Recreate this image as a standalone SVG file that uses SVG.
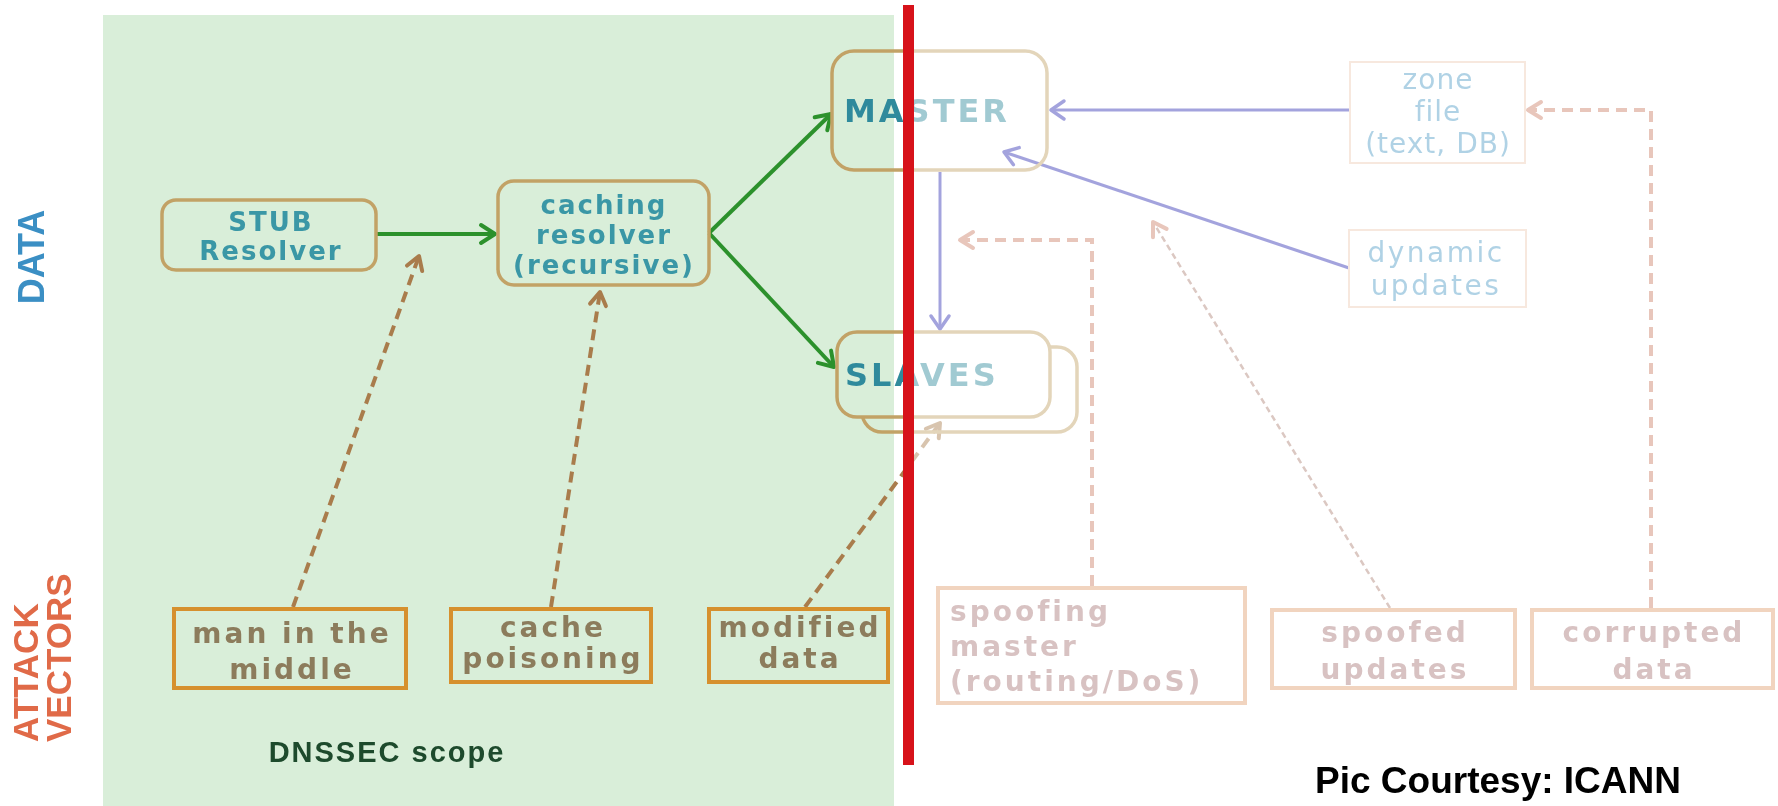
<svg xmlns="http://www.w3.org/2000/svg" width="1778" height="806" viewBox="0 0 1778 806">
<style>
text{font-family:"Liberation Sans",Arial,Helvetica,sans-serif;}
.nbox{fill:none;stroke:#c2a266;stroke-width:3.5;}
.ntext{font-family:"DejaVu Sans",Verdana,sans-serif;fill:#3a97a6;font-weight:bold;font-size:26px;letter-spacing:2px;text-anchor:middle;}
.big{font-family:"DejaVu Sans",Verdana,sans-serif;fill:#2f8a9c;font-weight:bold;font-size:32px;letter-spacing:3px;}
.abox{fill:none;stroke:#d6902e;stroke-width:4;}
.atext{font-family:"DejaVu Sans",Verdana,sans-serif;fill:#8c7c5c;font-weight:bold;font-size:28px;letter-spacing:3px;text-anchor:middle;}
.rbox{fill:none;stroke:#e0a070;stroke-width:4;}
.rtext{font-family:"DejaVu Sans",Verdana,sans-serif;fill:#a87878;font-weight:bold;font-size:28px;letter-spacing:3px;text-anchor:middle;}
.xbox{fill:#ffffff;stroke:#eecdb6;stroke-width:2;}
.xtext{font-family:"DejaVu Sans",Verdana,sans-serif;fill:#4f9cc6;font-size:28px;text-anchor:middle;}
.g{fill:none;stroke:#2c912c;stroke-width:4;marker-end:url(#ah-g);}
.p{fill:none;stroke:#3434b4;stroke-width:3;marker-end:url(#ah-p);}
.d{fill:none;stroke:#a97c4c;stroke-width:4;stroke-dasharray:11 7;marker-end:url(#ah-d);}
.dr{fill:none;stroke:#cc8068;stroke-width:4;stroke-dasharray:11 7;marker-end:url(#ah-r);}
.dt{fill:none;stroke:#b08478;stroke-width:2.5;stroke-dasharray:6 4;marker-end:url(#ah-r);}
</style>
<defs>
<marker id="ah-g" markerUnits="userSpaceOnUse" viewBox="0 0 24 24" markerWidth="24" markerHeight="24" refX="20" refY="12" orient="auto">
<path d="M6,3 L20,12 L6,21" fill="none" stroke="#2c912c" stroke-width="4" stroke-linecap="round" stroke-linejoin="round"/>
</marker>
<marker id="ah-p" markerUnits="userSpaceOnUse" viewBox="0 0 24 24" markerWidth="24" markerHeight="24" refX="20" refY="12" orient="auto">
<path d="M7,3 L20,12 L7,21" fill="none" stroke="#3434b4" stroke-width="3.5" stroke-linecap="round" stroke-linejoin="round"/>
</marker>
<marker id="ah-d" markerUnits="userSpaceOnUse" viewBox="0 0 24 24" markerWidth="24" markerHeight="24" refX="20" refY="12" orient="auto">
<path d="M7,4 L20,12 L7,20" fill="none" stroke="#a97c4c" stroke-width="4" stroke-linecap="round" stroke-linejoin="round"/>
</marker>
<marker id="ah-r" markerUnits="userSpaceOnUse" viewBox="0 0 24 24" markerWidth="24" markerHeight="24" refX="20" refY="12" orient="auto">
<path d="M7,4 L20,12 L7,20" fill="none" stroke="#cc8068" stroke-width="4" stroke-linecap="round" stroke-linejoin="round"/>
</marker>
<linearGradient id="slvfill" gradientUnits="userSpaceOnUse" x1="837" y1="0" x2="1050" y2="0">
<stop offset="0.268" stop-color="#d9eed9"/>
<stop offset="0.268" stop-color="#ffffff"/>
</linearGradient>
<mask id="fade" maskUnits="userSpaceOnUse" x="0" y="0" width="1778" height="806">
<rect x="0" y="0" width="903" height="806" fill="#fff"/>
<rect x="903" y="0" width="875" height="806" fill="#fff" fill-opacity="0.45"/>
</mask>
</defs>

<rect id="background" x="0" y="0" width="1778" height="806" fill="#ffffff"/>

<g id="content" mask="url(#fade)">
<rect id="dnssec-scope-area" x="103" y="15" width="791" height="791" fill="#d9eed9"/>

<g id="label-data"><text x="44" y="257" transform="rotate(-90 44 257)" fill="#3b8fc4" font-size="36" font-weight="bold" text-anchor="middle">DATA</text></g>
<g id="label-attack-vectors"><text transform="rotate(-90 38 742)" x="38" y="742" fill="#e06a48" font-size="35" font-weight="bold">ATTACK</text><text transform="rotate(-90 71 742)" x="71" y="742" fill="#e06a48" font-size="35" font-weight="bold">VECTORS</text></g>
<g id="label-dnssec-scope"><text x="387" y="762" fill="#1d4a2c" font-size="29" font-weight="bold" letter-spacing="2" text-anchor="middle">DNSSEC scope</text></g>

<g id="connectors">
<path class="g" d="M377,234 L495,234"/>
<path class="g" d="M709,233 L831,114"/>
<path class="g" d="M709,233 L834,367"/>
<path class="p" d="M940,172 L940,329"/>
<path class="p" d="M1349,110 L1051,110"/>
<path class="p" d="M1349,268 L1004,152"/>
<path class="d" d="M293,607 L419,256"/>
<path class="d" d="M551,607 L600,292"/>
<path class="d" d="M805,607 L940,423"/>
<path class="dr" d="M1092,586 L1092,240 L960,240"/>
<path class="dt" d="M1390,608 L1153,222"/>
<path class="dr" d="M1651,608 L1651,110 L1528,110"/>
</g>

<g id="stub-resolver"><rect class="nbox" x="162" y="200" width="214" height="70" rx="14"/><text class="ntext" x="271" y="231">STUB</text><text class="ntext" x="271" y="260">Resolver</text></g>
<g id="caching-resolver"><rect class="nbox" x="498" y="181" width="211" height="104" rx="16"/><text class="ntext" x="604" y="214">caching</text><text class="ntext" x="604" y="244">resolver</text><text class="ntext" x="604" y="274">(recursive)</text></g>
<g id="master"><rect class="nbox" x="832" y="51" width="215" height="119" rx="22"/><text class="big" x="844" y="122">MASTER</text></g>
<g id="slaves"><rect class="nbox" x="862" y="347" width="215" height="85" rx="20"/><rect class="nbox" x="837" y="332" width="213" height="85" rx="20" style="fill:url(#slvfill)"/><text class="big" x="845" y="386">SLAVES</text></g>
<g id="zone-file"><rect class="xbox" x="1350" y="62" width="175" height="101"/><text class="xtext" x="1438" y="89" letter-spacing="1">zone</text><text class="xtext" x="1438" y="121" letter-spacing="1">file</text><text class="xtext" x="1438" y="153" letter-spacing="1">(text, DB)</text></g>
<g id="dynamic-updates"><rect class="xbox" x="1349" y="230" width="177" height="77"/><text class="xtext" x="1436" y="262" font-size="32" letter-spacing="2.5">dynamic</text><text class="xtext" x="1436" y="295" font-size="32" letter-spacing="2.5">updates</text></g>

<g id="man-in-the-middle"><rect class="abox" x="174" y="609" width="232" height="79"/><text class="atext" x="292" y="643">man in the</text><text class="atext" x="292" y="679">middle</text></g>
<g id="cache-poisoning"><rect class="abox" x="451" y="609" width="200" height="73"/><text class="atext" x="553" y="637">cache</text><text class="atext" x="553" y="668">poisoning</text></g>
<g id="modified-data"><rect class="abox" x="709" y="609" width="179" height="73"/><text class="atext" x="800" y="637">modified</text><text class="atext" x="800" y="668">data</text></g>
<g id="spoofing-master"><rect class="rbox" x="938" y="588" width="307" height="115"/><text class="rtext" x="950" y="621" style="text-anchor:start">spoofing</text><text class="rtext" x="950" y="656" style="text-anchor:start">master</text><text class="rtext" x="950" y="691" style="text-anchor:start">(routing/DoS)</text></g>
<g id="spoofed-updates"><rect class="rbox" x="1272" y="610" width="243" height="78"/><text class="rtext" x="1395" y="642">spoofed</text><text class="rtext" x="1395" y="679">updates</text></g>
<g id="corrupted-data"><rect class="rbox" x="1532" y="610" width="241" height="78"/><text class="rtext" x="1654" y="642">corrupted</text><text class="rtext" x="1654" y="679">data</text></g>
</g>

<rect id="scope-boundary" x="903" y="5" width="11" height="760" fill="#d7121a"/>
<g id="credit"><text x="1498" y="793" fill="#000000" font-size="37" font-weight="bold" text-anchor="middle">Pic Courtesy: ICANN</text></g>
</svg>
